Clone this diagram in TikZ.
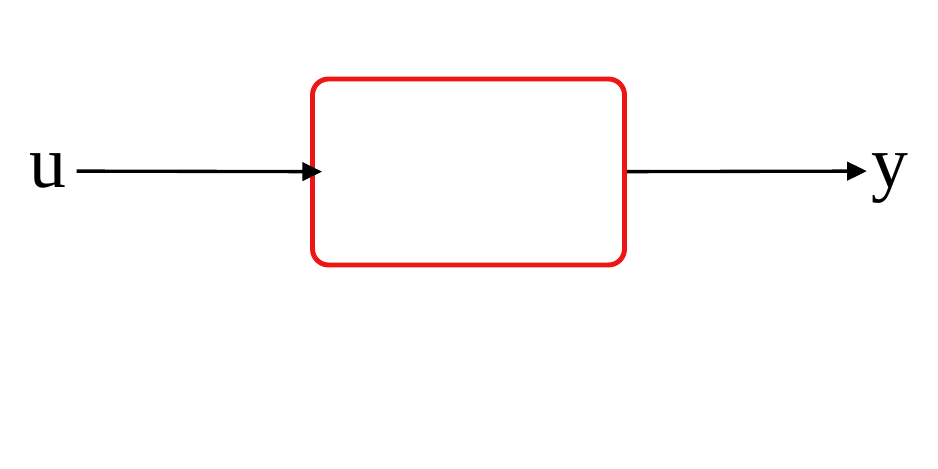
\documentclass[tikz,border=0pt]{standalone}
\usepackage{fontspec}
\setmainfont{Liberation Serif}
\usetikzlibrary{positioning, arrows.meta}
\usepackage{xcolor}
\definecolor{BlockRed}{HTML}{EE1515}

\begin{document}
\begin{tikzpicture}[every node/.style={font=\fontsize{21}{25}\selectfont}]
            \useasboundingbox (0,0) rectangle (9.38,4.69);
            % System block (centre)
            \node[draw=BlockRed, line width=1.4pt, rounded corners=0.16cm, minimum width=3.12cm, minimum height=1.86cm] (plant) at (4.685, 2.97) {};
            
            % Input and output signals
            \node[text depth=0pt, inner sep=1mm, anchor=base] (u) at (0.475, 2.81) {u};
            \node[text depth=0pt, inner sep=1mm, anchor=base] (y) at (8.9, 2.81) {y};
            
            % Arrows
            \draw[-{Triangle[length=5.6pt, width=5.2pt]}, line width=0.95pt, shorten >=-0.12cm] (u) -- (plant);
            \draw[-{Triangle[length=5.6pt, width=5.2pt]}, line width=0.95pt, shorten >=-0.06cm] (plant) -- (y);
        \end{tikzpicture}
\end{document}
